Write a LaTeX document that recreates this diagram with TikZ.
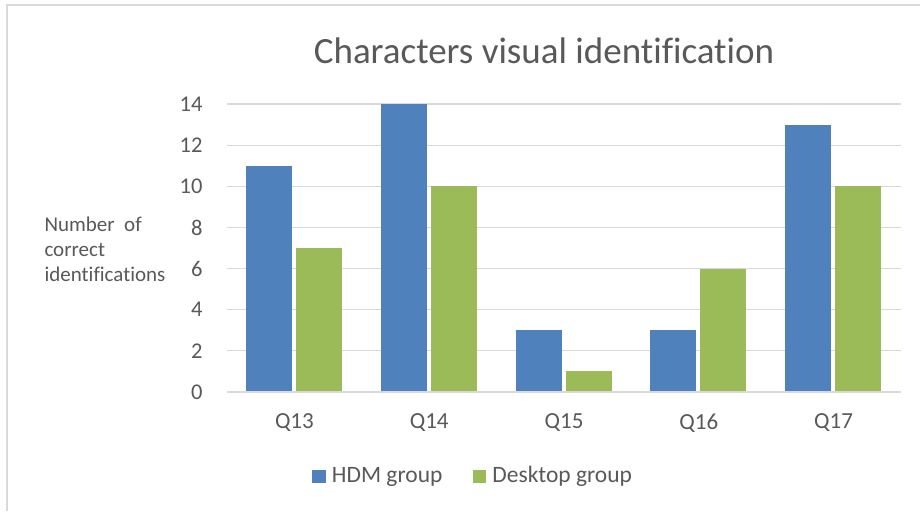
\documentclass[tikz,border=0pt]{standalone}
\usepackage{fontspec}
\setmainfont[Ligatures=NoCommon]{Carlito}
\usepackage{tikz}
\usetikzlibrary{positioning}
\definecolor{hdmblue}{HTML}{4F81BD}
\definecolor{deskgreen}{HTML}{9BBB59}
\definecolor{gridgray}{HTML}{D9D9D9}
\definecolor{textgray}{HTML}{595959}

\begin{document}
\begin{tikzpicture}[x=1pt,y=1pt,
  gridline/.style={draw=gridgray,line width=1.2pt},
  hdm/.style={fill=hdmblue},
  desk/.style={fill=deskgreen},
  ticklab/.style={anchor=east,text=textgray,font=\fontsize{22.5}{26}\selectfont},
  catlab/.style={text=textgray,font=\fontsize{23}{27}\selectfont},
  keylab/.style={text=textgray,font=\fontsize{23.5}{27}\selectfont},
  keybox/.style={minimum size=13.5pt,inner sep=0pt}]
\useasboundingbox (0,0) rectangle (920,511);
\fill[white] (0,0) rectangle (920,511);
\draw[gridgray,line width=1.2pt] (7,0) -- (7,506) -- (920,506);

\node[text=textgray,font=\fontsize{37}{41}\selectfont] (title) at (544,460) {Characters visual identification};
\node[text=textgray,font=\fontsize{21}{25}\selectfont,align=left,anchor=west] (ylab) at (41,262)
  {Number\ \ of\\correct\\identifications};

% value axis: 1 unit = 20.571pt
\begin{scope}[shift={(227,119)},y=20.571pt]
\draw[gridline] (0,2) -- (674,2);
\draw[gridline] (0,4) -- (674,4);
\draw[gridline] (0,6) -- (674,6);
\draw[gridline] (0,8) -- (674,8);
\draw[gridline] (0,10) -- (674,10);
\draw[gridline] (0,12) -- (674,12);
\draw[gridline] (0,14) -- (674,14);
\fill[hdm] (19,0) rectangle (65,11);
\fill[desk] (69,0) rectangle (115,7);
\fill[hdm] (153.8,0) rectangle (199.8,14);
\fill[desk] (203.8,0) rectangle (249.8,10);
\fill[hdm] (288.6,0) rectangle (334.6,3);
\fill[desk] (338.6,0) rectangle (384.6,1);
\fill[hdm] (423.4,0) rectangle (469.4,3);
\fill[desk] (473.4,0) rectangle (519.4,6);
\fill[hdm] (558.2,0) rectangle (604.2,13);
\fill[desk] (608.2,0) rectangle (654.2,10);
\draw[gridline] (0,0) -- (674,0);
\node[ticklab] (t0) at (-21,0) {0};
\node[ticklab] (t2) at (-21,2) {2};
\node[ticklab] (t4) at (-21,4) {4};
\node[ticklab] (t6) at (-21,6) {6};
\node[ticklab] (t8) at (-21,8) {8};
\node[ticklab] (t10) at (-21,10) {10};
\node[ticklab] (t12) at (-21,12) {12};
\node[ticklab] (t14) at (-21,14) {14};
\end{scope}

\node[catlab] (q13) at (294.4,88) {Q13};
\node[catlab] (q14) at (429.2,88) {Q14};
\node[catlab] (q15) at (564,88) {Q15};
\node[catlab] (q16) at (698.8,88) {Q16};
\node[catlab] (q17) at (833.6,88) {Q17};

\node[keybox,hdm] (khdm) at (319,34.5) {};
\node[keylab,anchor=west,right=2.5pt of khdm] (lhdm) {HDM group};
\node[keybox,desk] (kdesk) at (479.5,34.5) {};
\node[keylab,anchor=west,right=2.5pt of kdesk] (ldesk) {Desktop group};
\end{tikzpicture}
\end{document}
